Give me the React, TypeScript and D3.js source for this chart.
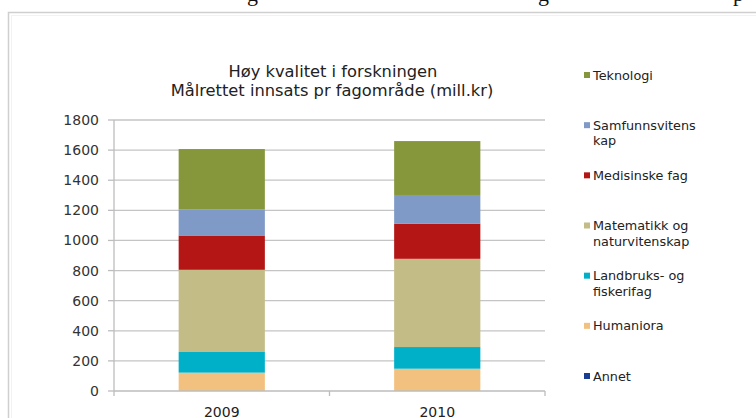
import React from "react";
import * as d3 from "d3";

const years = ["2009", "2010"];
const seriesNames = [
  "Annet",
  "Humaniora",
  "Landbruks- og fiskerifag",
  "Matematikk og naturvitenskap",
  "Medisinske fag",
  "Samfunnsvitenskap",
  "Teknologi",
];
const legendLines = [
  ["Annet"],
  ["Humaniora"],
  ["Landbruks- og", "fiskerifag"],
  ["Matematikk og", "naturvitenskap"],
  ["Medisinske fag"],
  ["Samfunnsvitens", "kap"],
  ["Teknologi"],
];
const annet = [0, 0];
const humaniora = [122, 148];
const landbruk = [137, 144];
const matematikk = [546, 586];
const medisin = [228, 234];
const samfunn = [174, 190];
const teknologi = [400, 358];
const colors = ["#1a3d94", "#f3c17f", "#00b0c8", "#c4bc87", "#b41616", "#7f9ac6", "#86963a"];
const yTicks = [0, 200, 400, 600, 800, 1000, 1200, 1400, 1600, 1800];
const titleLines = ["Høy kvalitet i forskningen", "Målrettet innsats pr fagområde (mill.kr)"];

export default function App() {
  const W = 756, H = 418;
  const left = 114, right = 545, top = 120, bottom = 391;
  const font = "'DejaVu Sans', Verdana, sans-serif";
  const values = [annet, humaniora, landbruk, matematikk, medisin, samfunn, teknologi];
  const table = years.map((yr, i) => {
    const row: any = { year: yr };
    seriesNames.forEach((s, j) => (row[s] = values[j][i]));
    return row;
  });
  const stack = d3.stack().keys(seriesNames)(table);
  const x = d3.scaleBand().domain(years).range([left, right]).paddingInner(0).paddingOuter(0);
  const y = d3.scaleLinear().domain([0, 1800]).range([bottom, top]);
  const barW = x.bandwidth() * 0.4;
  const legendY = d3.scaleLinear().domain([0, 6]).range([376, 75]);

  return (
    <div style={{ position: "absolute", left: 0, top: 0, width: W, height: H }}>
      <svg width={W} height={H} style={{ display: "block", background: "#fff" }}>
        {/* cut-off document text above the chart */}
        <g fontFamily="'Liberation Serif', serif" fontSize={22} fill="#111">
          <text x={247} y={1}>g</text>
          <text x={538} y={1}>g</text>
          <text x={733} y={1}>p</text>
        </g>
        <rect x={8.5} y={12.5} width={W + 20} height={H + 20} fill="#fff" stroke="#cfcfcf" strokeWidth={1.5} />
        <rect x={11.5} y={15.5} width={W + 20} height={H + 20} fill="none" stroke="#f2f2f2" strokeWidth={1} />

        <g fontFamily={font} fontSize={16.3} fill="#222" textAnchor="middle">
          <text x={333} y={76.5}>{titleLines[0]}</text>
          <text x={332} y={96}>{titleLines[1]}</text>
        </g>

        {/* gridlines */}
        {yTicks.filter((t) => t > 0).map((t) => (
          <line key={t} x1={left} x2={right} y1={y(t)} y2={y(t)} stroke="#c4c4c4" strokeWidth={1.3} />
        ))}
        {/* y axis */}
        <line x1={left} x2={left} y1={top} y2={bottom} stroke="#bdbdbd" strokeWidth={1.3} />
        {yTicks.map((t) => (
          <g key={t}>
            <line x1={left - 6} x2={left} y1={y(t)} y2={y(t)} stroke="#bdbdbd" strokeWidth={1.3} />
            <text x={99} y={y(t) + 5} textAnchor="end" fontFamily={font} fontSize={14} fill="#333">
              {t}
            </text>
          </g>
        ))}

        {/* bars */}
        {stack.map((layer, j) => (
          <g key={layer.key} fill={colors[j]}>
            {layer.map((d, i) => {
              const h = y(d[0]) - y(d[1]);
              if (h <= 0) return null;
              return (
                <rect
                  key={i}
                  x={(x(years[i]) as number) + (x.bandwidth() - barW) / 2}
                  y={y(d[1])}
                  width={barW}
                  height={h}
                />
              );
            })}
          </g>
        ))}

        {/* x axis */}
        <line x1={left} x2={right} y1={bottom} y2={bottom} stroke="#bdbdbd" strokeWidth={1.3} />
        {[...years.map((yr) => x(yr) as number), right].map((v, i) => (
          <line key={i} x1={v} x2={v} y1={bottom} y2={bottom + 5} stroke="#bdbdbd" strokeWidth={1.3} />
        ))}
        {years.map((yr) => (
          <text
            key={yr}
            x={(x(yr) as number) + x.bandwidth() / 2}
            y={417}
            textAnchor="middle"
            fontFamily={font}
            fontSize={14}
            fill="#222"
          >
            {yr}
          </text>
        ))}

        {/* legend */}
        {seriesNames.map((s, j) => {
          const ly = legendY(j);
          return (
            <g key={s}>
              <rect x={584} y={ly - 3} width={6} height={6} fill={colors[j]} />
              {legendLines[j].map((ln, k) => (
                <text key={k} x={593} y={ly + 4.5 + k * 15.5} fontFamily={font} fontSize={12.8} fill="#222">
                  {ln}
                </text>
              ))}
            </g>
          );
        })}
      </svg>
    </div>
  );
}
